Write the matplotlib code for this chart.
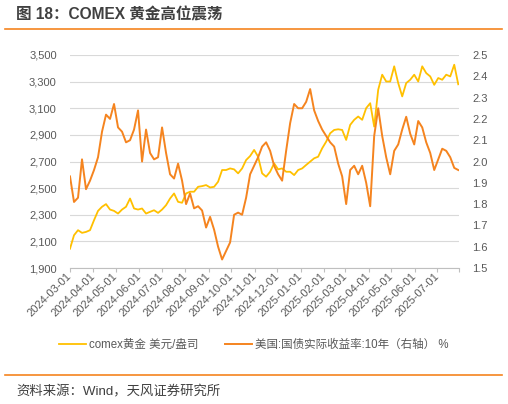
import numpy as np
import pandas as pd
import matplotlib
matplotlib.use('Agg')
import matplotlib.pyplot as plt
import matplotlib.dates as mdates
from matplotlib.lines import Line2D
from matplotlib.ticker import FuncFormatter

plt.rcParams['font.family'] = ['Liberation Sans', 'Noto Sans CJK SC', 'DejaVu Sans']
plt.rcParams['axes.unicode_minus'] = False

# data, evenly spaced from start to end
start = '2024-03-01'
end = '2025-07-29'

gold = [
    2045, 2146, 2184, 2164, 2171, 2184, 2259, 2329, 2360, 2380,
    2339, 2329, 2309, 2339, 2360, 2422, 2347, 2339, 2347, 2309,
    2322, 2334, 2314, 2339, 2372, 2422, 2460, 2397, 2390, 2460,
    2473, 2473, 2510, 2515, 2523, 2505, 2510, 2548, 2636, 2636,
    2648, 2641, 2611, 2648, 2711, 2741, 2787, 2736, 2611, 2586,
    2623, 2686, 2641, 2648, 2623, 2623, 2598, 2636, 2648, 2674,
    2699, 2724, 2736, 2799, 2849, 2912, 2937, 2942, 2937, 2862,
    2975, 3013, 3038, 3013, 3101, 3138, 2962, 3239, 3352, 3301,
    3301, 3415, 3289, 3189, 3289, 3314, 3352, 3301, 3415, 3364,
    3339, 3276, 3327, 3314, 3352, 3339, 3427, 3280,
]

real_yield = [
    1.93, 1.81, 1.83, 2.01, 1.87, 1.91, 1.96, 2.02, 2.14, 2.22,
    2.20, 2.27, 2.16, 2.14, 2.09, 2.10, 2.15, 2.24, 2.00, 2.15,
    2.04, 2.01, 2.02, 2.16, 2.04, 1.94, 1.92, 1.99, 1.91, 1.80,
    1.85, 1.78, 1.79, 1.77, 1.69, 1.74, 1.68, 1.60, 1.54, 1.58,
    1.62, 1.75, 1.76, 1.75, 1.83, 1.94, 1.98, 2.02, 2.07, 2.09,
    2.05, 1.98, 1.94, 1.91, 2.05, 2.18, 2.27, 2.25, 2.25, 2.28,
    2.34, 2.24, 2.19, 2.15, 2.12, 2.09, 2.07, 1.99, 1.93, 1.80,
    1.96, 1.98, 1.94, 1.98, 1.90, 1.79, 2.12, 2.25, 2.12, 2.02,
    1.94, 2.05, 2.08, 2.15, 2.21, 2.13, 2.08, 2.19, 2.16, 2.09,
    2.04, 1.96, 2.01, 2.06, 2.05, 2.02, 1.97, 1.96,
]

dates = pd.date_range(start, end, periods=len(gold))

gold_label = 'comex黄金 美元/盎司'
yield_label = '美国:国债实际收益率:10年（右轴） %'

gold_color = '#FFC000'
yield_color = '#F5841F'
text_gray = '#595959'

fig = plt.figure(figsize=(5.08, 4.04), dpi=100)
W, H = 508, 404
ax = fig.add_axes([70 / W, 1 - 268 / H, (459 - 70) / W, (268 - 55) / H])

l1, = ax.plot(dates, gold, color=gold_color, lw=1.3)
ax2 = ax.twinx()
l2, = ax2.plot(dates, real_yield, color=yield_color, lw=1.4)

ax.set_ylim(1900, 3500)
ax.set_yticks(range(1900, 3501, 200))
ax.yaxis.set_major_formatter(FuncFormatter(lambda v, p: f'{v:,.0f}'))
ax2.set_ylim(1.5, 2.5)
ax2.set_yticks(np.round(np.arange(1.5, 2.51, 0.1), 1))
ax2.yaxis.set_major_formatter(FuncFormatter(lambda v, p: f'{v:.1f}'))

ax.set_xlim(pd.Timestamp('2024-03-01'), pd.Timestamp('2025-07-30'))
ax.xaxis.set_major_locator(mdates.MonthLocator())
ax.xaxis.set_major_formatter(mdates.DateFormatter('%Y-%m-%d'))
ax.set_xticks([mdates.date2num(pd.Timestamp('2025-07-30'))], minor=True)

for a in (ax, ax2):
    for s in ('top', 'left', 'right'):
        a.spines[s].set_visible(False)
ax2.spines['bottom'].set_visible(False)
ax.spines['bottom'].set_color('#BFBFBF')
ax.spines['bottom'].set_linewidth(0.8)

ax.grid(axis='y', color='#D9D9D9', lw=0.8)
ax.set_axisbelow(True)

ax.tick_params(axis='y', length=0, pad=9.5, labelsize=8, labelcolor=text_gray)
ax2.tick_params(axis='y', length=0, pad=9.5, labelsize=8, labelcolor=text_gray)
ax.tick_params(axis='x', which='both', length=3, width=0.8, color='#BFBFBF',
               pad=1.5, labelsize=8, labelcolor=text_gray)
for lbl in ax.get_xticklabels():
    lbl.set_rotation(45)
    lbl.set_ha('right')
    lbl.set_va('center')
    lbl.set_rotation_mode('anchor')

leg = fig.legend([l1, l2], [gold_label, yield_label], loc='center',
                 bbox_to_anchor=(0.5, 1 - 345 / H), ncol=2, frameon=False,
                 fontsize=8.3, handlelength=2.3, columnspacing=2.3,
                 handletextpad=0.3)
for t in leg.get_texts():
    t.set_color(text_gray)

fig.add_artist(Line2D([5 / W, 502 / W], [1 - 29 / H] * 2, color=yield_color, lw=1.2))
fig.add_artist(Line2D([5 / W, 502 / W], [1 - 374.5 / H] * 2, color=yield_color, lw=1.2))

fig.text(16 / W, 1 - 15 / H, '图 18：COMEX 黄金高位震荡', fontsize=11.2,
         fontweight='bold', color='#404040', va='center')
fig.text(16 / W, 1 - 392 / H, '资料来源：Wind，天风证券研究所', fontsize=9.6,
         color='#404040', va='center')

fig.savefig('out.png', dpi=100)
